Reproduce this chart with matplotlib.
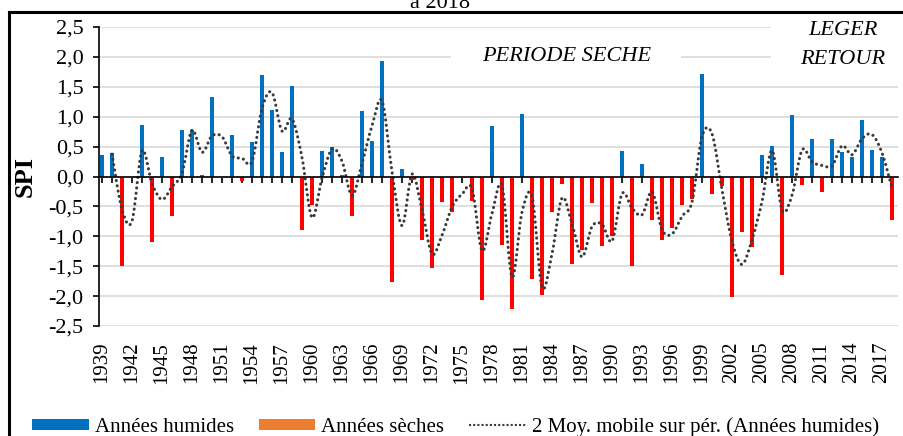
import numpy as np
import matplotlib
matplotlib.use("Agg")
import matplotlib.pyplot as plt
from matplotlib.path import Path
from matplotlib.patches import PathPatch, Patch, Rectangle
from matplotlib.lines import Line2D

plt.rcParams['font.family'] = ['Liberation Serif', 'DejaVu Serif']

years = list(range(1939, 2019))
spi = [0.36, 0.39, -1.49, 0.0, 0.86, -1.09, 0.32, -0.66, 0.77, 0.78,
       0.03, 1.33, 0.0, 0.69, -0.08, 0.58, 1.70, 1.11, 0.41, 1.52,
       -0.89, -0.48, 0.43, 0.49, 0.02, -0.66, 1.10, 0.60, 1.93, -1.77,
       0.13, -0.05, -1.06, -1.53, -0.43, -0.59, 0.0, -0.41, -2.07, 0.84,
       -1.14, -2.22, 1.04, -1.72, -1.98, -0.59, -0.13, -1.46, -1.23, -0.44,
       -1.16, -1.00, 0.43, -1.49, 0.21, -0.72, -1.06, -0.86, -0.47, -0.37,
       1.72, -0.30, -0.16, -2.02, -0.92, -1.18, 0.36, 0.51, -1.64, 1.03,
       -0.14, 0.63, -0.26, 0.62, 0.41, 0.32, 0.95, 0.45, 0.33, -0.73]
label_years = years[::3]

x = np.array(years, dtype=float)
v = np.array(spi)
humid = np.where(v > 0, v, 0)
dry = np.where(v < 0, v, 0)

# moyenne mobile sur 2 periodes
ma_x = x[1:]
ma_y = (v[1:] + v[:-1]) / 2

fig = plt.figure(figsize=(9.04, 4.36), dpi=100)
ax = fig.add_axes([0.1095, 0.2523, 0.884, 0.6857])

ax.bar(x, humid, width=0.4, color='#0070C0', zorder=3)
ax.bar(x, dry, width=0.4, color='#FF0000', zorder=3)

# courbe lissee (style Excel) : bezier a partir des points de la moyenne mobile
pts = np.column_stack([ma_x, ma_y])
verts = [tuple(pts[0])]
codes = [Path.MOVETO]
n = len(pts)
for i in range(n - 1):
    p0 = pts[i - 1] if i > 0 else pts[i]
    p1 = pts[i]
    p2 = pts[i + 1]
    p3 = pts[i + 2] if i + 2 < n else pts[i + 1]
    c1 = p1 + (p2 - p0) / 6
    c2 = p2 - (p3 - p1) / 6
    verts += [tuple(c1), tuple(c2), tuple(p2)]
    codes += [Path.CURVE4] * 3
ma_patch = PathPatch(Path(verts, codes), fill=False, edgecolor='#3a3a3a',
                     linewidth=2.2, linestyle=(0, (0.05, 1.7)), zorder=4)
ma_patch.set_capstyle('round')
ax.add_patch(ma_patch)

ax.set_xlim(1939 - 0.3, 2018 + 0.6)
ax.set_ylim(-2.5, 2.5)
yt = np.arange(-2.5, 2.51, 0.5)
ax.set_yticks(yt)
ax.set_yticklabels([('%.1f' % t).replace('.', ',') for t in yt], fontsize=16)
ax.grid(axis='y', color='#D9D9D9', linewidth=1.2, zorder=0)
ax.set_axisbelow(True)

ax.spines['top'].set_visible(False)
ax.spines['right'].set_visible(False)
ax.spines['bottom'].set_position(('data', 0))
ax.spines['bottom'].set_zorder(5)
ax.spines['left'].set_linewidth(1.2)
ax.spines['bottom'].set_linewidth(1.2)

ax.set_xticks(years, minor=True)
ax.set_xticks(label_years)
ax.set_xticklabels([str(y) for y in label_years], rotation=90, fontsize=15, va='top')
ax.tick_params(axis='x', which='both', direction='out', length=4, width=1.2)
ax.tick_params(axis='x', which='major', pad=115)
ax.tick_params(axis='y', direction='out', length=4, width=1.2, pad=7)

ax.set_ylabel('SPI', fontsize=19, fontweight='bold')
ax.yaxis.set_label_coords(-0.078, 0.5)

# fonds blancs derriere les annotations (coupent la grille)
ax.add_patch(Rectangle((1973.9, 1.8), 23.0, 0.45, facecolor='white', edgecolor='none', zorder=1))
ax.add_patch(Rectangle((2005.9, 1.75), 14.0, 0.9, facecolor='white', edgecolor='none',
                       zorder=1, clip_on=False))

ax.text(1985.5, 2.0, 'PERIODE SECHE', fontsize=16, style='italic', ha='center',
        va='center', zorder=6)
ax.text(2013.1, 2.2, 'LEGER\nRETOUR', fontsize=16, style='italic', ha='center',
        va='center', linespacing=1.75, zorder=6)

# titre coupe en haut
fig.text(0.487, 0.982, 'à 2018', fontsize=16, ha='center', va='baseline')

# cadre noir
fig.add_artist(Line2D([0.0099, 1.0], [0.9725, 0.9725], color='black', linewidth=2.2,
                      transform=fig.transFigure))
fig.add_artist(Line2D([0.0099, 0.0099], [0.0, 0.9725], color='black', linewidth=2.2,
                      transform=fig.transFigure))

handles = [Patch(facecolor='#0070C0', edgecolor='none'),
           Patch(facecolor='#ED7D31', edgecolor='none'),
           Line2D([], [], color='#3a3a3a', linewidth=1.5, linestyle=(0, (1, 1)))]
labels = ['Années humides', 'Années sèches', '2 Moy. mobile sur pér. (Années humides)']
fig.legend(handles, labels, loc='lower left', bbox_to_anchor=(0.015, -0.045), ncol=3,
           frameon=False, fontsize=15, handlelength=2.7, handleheight=0.5,
           handletextpad=0.3, columnspacing=1.2)

fig.savefig('out.png', dpi=100)
